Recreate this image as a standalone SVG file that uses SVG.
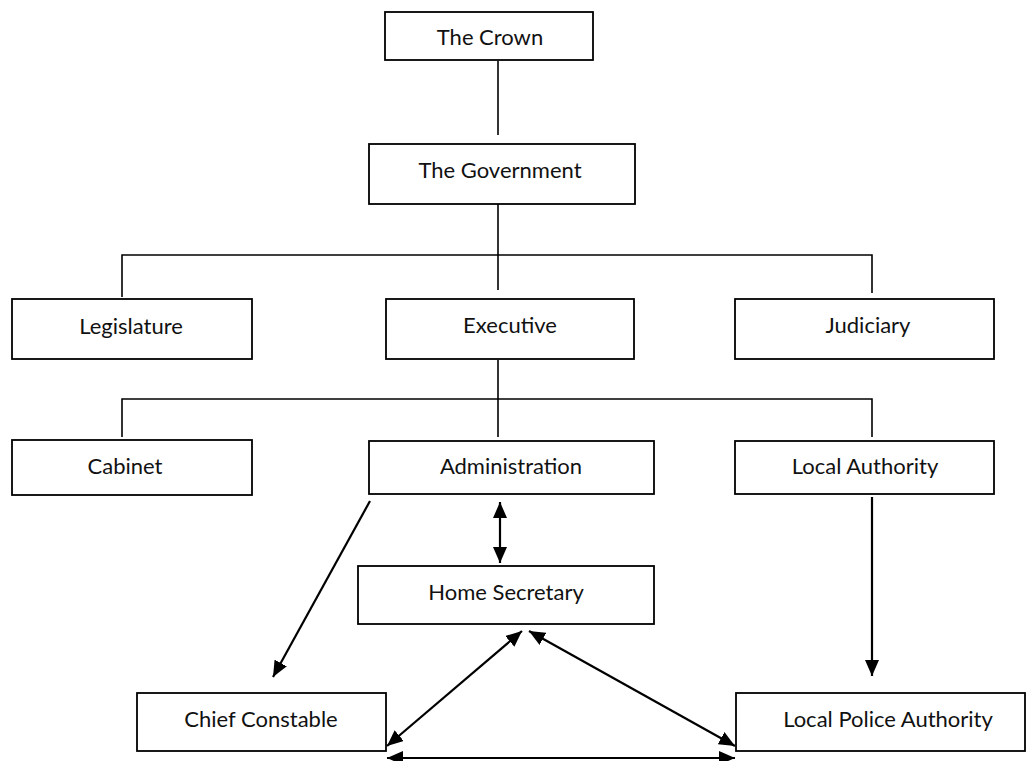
<svg xmlns="http://www.w3.org/2000/svg" width="1029" height="761" viewBox="0 0 1029 761">
<style>
.box{fill:#fff;stroke:#000;stroke-width:1.8}
.lbl{font-family:Lato,"Open Sans","Liberation Sans",sans-serif;font-size:22px;fill:#111;text-anchor:middle}
.ln{fill:none;stroke:#000;stroke-width:1.6}
.ar{fill:none;stroke:#000;stroke-width:2.2}
</style>
<defs>
<marker id="ah" markerUnits="userSpaceOnUse" markerWidth="16" markerHeight="14" refX="16" refY="7" orient="auto-start-reverse">
<path d="M0,0 L16,7 L0,14 z" fill="#000"/>
</marker>
</defs>
<rect width="1029" height="761" fill="#fff"/>
<g id="connectors">
<line class="ln" x1="498" y1="61" x2="498" y2="135"/>
<line class="ln" x1="498" y1="204" x2="498" y2="290"/>
<polyline class="ln" points="122,297 122,255 872,255 872,293"/>
<line class="ln" x1="498" y1="360" x2="498" y2="437"/>
<polyline class="ln" points="122,437 122,399 872,399 872,437"/>
<line class="ar" x1="370" y1="501" x2="273" y2="677" marker-end="url(#ah)"/>
<line class="ar" x1="500" y1="502" x2="500" y2="563" marker-start="url(#ah)" marker-end="url(#ah)"/>
<line class="ar" x1="872" y1="497" x2="872" y2="676" marker-end="url(#ah)"/>
<line class="ar" x1="387" y1="746" x2="522" y2="631" marker-start="url(#ah)" marker-end="url(#ah)"/>
<line class="ar" x1="529" y1="631" x2="735" y2="746" marker-start="url(#ah)" marker-end="url(#ah)"/>
<line class="ar" x1="387" y1="758" x2="735" y2="758" marker-start="url(#ah)" marker-end="url(#ah)"/>
</g>
<g id="crown"><rect class="box" x="385" y="12" width="208" height="48"/><text class="lbl" x="490" y="45">The Crown</text></g>
<g id="government"><rect class="box" x="369" y="144" width="266" height="60"/><text class="lbl" x="500" y="178">The Government</text></g>
<g id="legislature"><rect class="box" x="12" y="299" width="240" height="60"/><text class="lbl" x="131" y="334">Legislature</text></g>
<g id="executive"><rect class="box" x="386" y="299" width="248" height="60"/><text class="lbl" x="510" y="333">Executive</text></g>
<g id="judiciary"><rect class="box" x="735" y="299" width="259" height="60"/><text class="lbl" x="868" y="333">Judiciary</text></g>
<g id="cabinet"><rect class="box" x="12" y="440" width="240" height="55"/><text class="lbl" x="125" y="474">Cabinet</text></g>
<g id="administration"><rect class="box" x="369" y="441" width="285" height="53"/><text class="lbl" x="511" y="474">Administration</text></g>
<g id="local-authority"><rect class="box" x="735" y="441" width="259" height="53"/><text class="lbl" x="865" y="474">Local Authority</text></g>
<g id="home-secretary"><rect class="box" x="358" y="566" width="296" height="58"/><text class="lbl" x="506" y="600">Home Secretary</text></g>
<g id="chief-constable"><rect class="box" x="137" y="693" width="249" height="58"/><text class="lbl" x="261" y="727">Chief Constable</text></g>
<g id="local-police-authority"><rect class="box" x="736" y="693" width="289" height="58"/><text class="lbl" x="888" y="727">Local Police Authority</text></g>
</svg>
